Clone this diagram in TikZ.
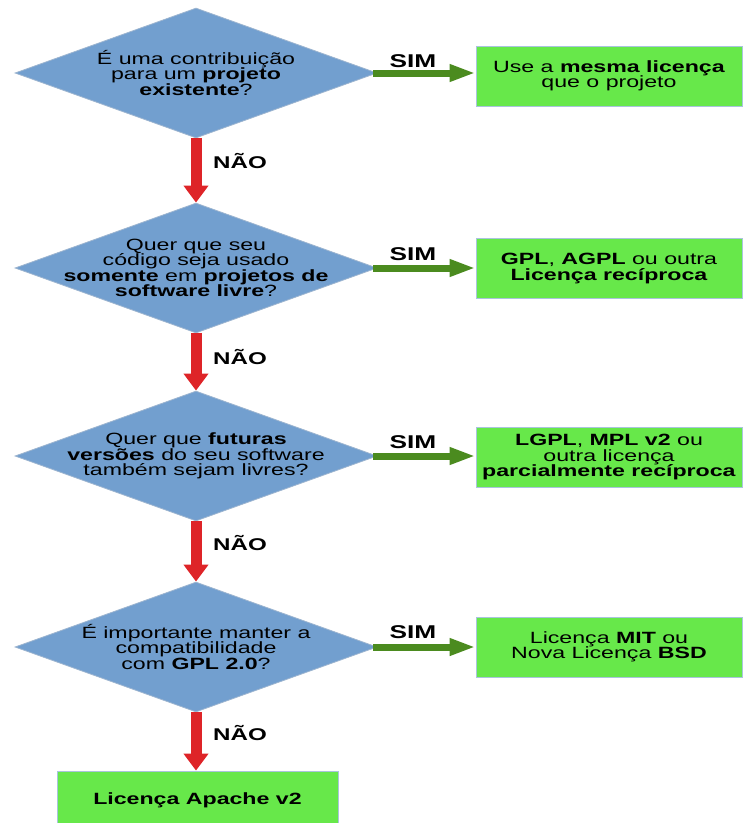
\documentclass[tikz,border=0pt]{standalone}
\usepackage{fontspec}
\setmainfont{Liberation Sans}[FakeStretch=1.42]
\usetikzlibrary{shapes.geometric,arrows.meta}
\definecolor{diafill}{HTML}{729FCF}
\definecolor{diaedge}{HTML}{9DB5D0}
\definecolor{boxfill}{HTML}{67E84A}
\definecolor{boxedge}{HTML}{A9C4DD}
\definecolor{noarrow}{HTML}{DE2428}
\definecolor{yesarrow}{HTML}{4B8B1F}
\begin{document}
\begin{tikzpicture}[x=1pt,y=-1pt,
  dia/.style={diamond, draw=diaedge, fill=diafill, line width=0.8pt,
    minimum width=362pt, minimum height=130pt, inner sep=0pt},
  qtext/.style={align=center, inner sep=0pt, font=\fontsize{16.3}{15.5}\selectfont},
  lic/.style={rectangle, draw=boxedge, fill=boxfill, line width=0.8pt,
    minimum width=266pt, minimum height=60pt, inner sep=0pt, align=center,
    font=\fontsize{16.3}{15.5}\selectfont},
  noline/.style={draw=noarrow, line width=11pt,
    -{Triangle[width=24pt,length=17pt,fill=noarrow]}},
  yesline/.style={draw=yesarrow, line width=7pt,
    -{Triangle[width=16pt,length=26pt,fill=yesarrow]}},
  lab/.style={inner sep=0pt, font=\fontsize{17}{17}\selectfont\bfseries},
  simlab/.style={lab, font=\fontsize{18.5}{18.5}\selectfont\bfseries}
]
\useasboundingbox (0,0) rectangle (744,823);

% diamonds
\node[dia] (d1) at (196,73) {};
\node[dia] (d2) at (196,268) {};
\node[dia] (d3) at (196,456) {};
\node[dia] (d4) at (196,647) {};

\node[qtext] (q1) at (d1.center) {É uma contribuição\\para um \textbf{projeto}\\\textbf{existente}?};
\node[qtext] (q2) at (d2.center) {Quer que seu\\código seja usado\\\textbf{somente} em \textbf{projetos de}\\\textbf{software livre}?};
\node[qtext] (q3) at (d3.center) {Quer que \textbf{futuras}\\\textbf{versões} do seu software\\também sejam livres?};
\node[qtext] (q4) at (d4.center) {É importante manter a\\compatibilidade\\com \textbf{GPL 2.0}?};

% licence boxes
\node[lic] (b1) at (609,76) {Use a \textbf{mesma licença}\\que o projeto};
\node[lic] (b2) at (609,268.5) {\textbf{GPL}, \textbf{AGPL} ou outra\\\textbf{Licença recíproca}};
\node[lic] (b3) at (609,457) {\textbf{LGPL}, \textbf{MPL v2} ou\\outra licença\\\textbf{parcialmente recíproca}};
\node[lic] (b4) at (609,647) {Licença \textbf{MIT} ou\\Nova Licença \textbf{BSD}};
\node[lic, minimum width=281pt, minimum height=59pt] (b5) at (197.5,800.5) {\textbf{Licença Apache v2}};

% NÃO arrows
\draw[noline] (d1.south) -- (d2.north);
\draw[noline] (d2.south) -- (d3.north);
\draw[noline] (d3.south) -- (d4.north);
\draw[noline] (d4.south) -- (b5.north -| d4.south);

% SIM arrows
\draw[yesline] ([xshift=-4pt]d1.east) -- (d1.east -| b1.west);
\draw[yesline] ([xshift=-4pt]d2.east) -- (d2.east -| b2.west);
\draw[yesline] ([xshift=-4pt]d3.east) -- (d3.east -| b3.west);
\draw[yesline] ([xshift=-4pt]d4.east) -- (d4.east -| b4.west);

% labels
\node[simlab] (s1) at (413,61) {SIM};
\node[simlab] (s2) at (413,254) {SIM};
\node[simlab] (s3) at (413,442) {SIM};
\node[simlab] (s4) at (413,632) {SIM};
\node[lab] (n1) at (240,161) {NÃO};
\node[lab] (n2) at (240,357) {NÃO};
\node[lab] (n3) at (240,543) {NÃO};
\node[lab] (n4) at (240,733) {NÃO};
\end{tikzpicture}
\end{document}
